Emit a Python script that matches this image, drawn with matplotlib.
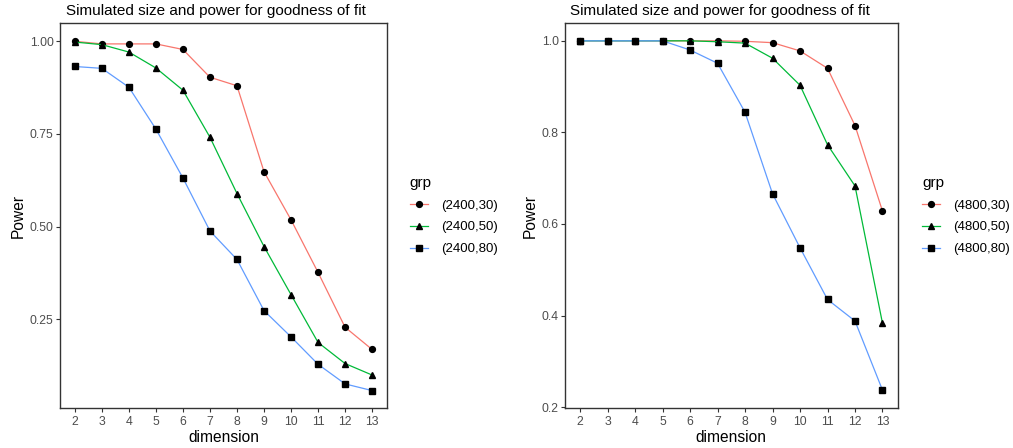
import matplotlib
matplotlib.use("Agg")
import matplotlib.pyplot as plt

plt.rcParams['font.family'] = ['Liberation Sans', 'DejaVu Sans']

dimension = [2, 3, 4, 5, 6, 7, 8, 9, 10, 11, 12, 13]

# Left panel (n = 2400)
left_labels = ["(2400,30)", "(2400,50)", "(2400,80)"]
left_30 = [1.000, 0.993, 0.993, 0.993, 0.978, 0.903, 0.880, 0.648, 0.518, 0.376, 0.228, 0.168]
left_50 = [0.998, 0.991, 0.971, 0.928, 0.868, 0.741, 0.589, 0.446, 0.316, 0.187, 0.130, 0.099]
left_80 = [0.932, 0.927, 0.876, 0.763, 0.631, 0.488, 0.411, 0.273, 0.202, 0.128, 0.075, 0.057]

# Right panel (n = 4800)
right_labels = ["(4800,30)", "(4800,50)", "(4800,80)"]
right_30 = [1.000, 1.000, 1.000, 1.000, 1.000, 1.000, 0.999, 0.996, 0.978, 0.940, 0.815, 0.628]
right_50 = [1.000, 1.000, 1.000, 1.000, 1.000, 0.998, 0.995, 0.962, 0.903, 0.773, 0.683, 0.383]
right_80 = [1.000, 1.000, 1.000, 1.000, 0.980, 0.951, 0.844, 0.666, 0.548, 0.435, 0.388, 0.237]

left_yticks = [0.25, 0.50, 0.75, 1.00]
left_yticklabels = ["0.25", "0.50", "0.75", "1.00"]
right_yticks = [0.2, 0.4, 0.6, 0.8, 1.0]
right_yticklabels = ["0.2", "0.4", "0.6", "0.8", "1.0"]

colors = ["#F8766D", "#00BA38", "#619CFF"]
markers = ["o", "^", "s"]
msizes = [4.2, 4.8, 4.0]

title = "Simulated size and power for goodness of fit"

fig = plt.figure(figsize=(10.13, 4.48), dpi=100)

def panel(rect, series, labels, yticks, yticklabels, ylim, legend_anchor, title_dx):
    ax = fig.add_axes(rect)
    handles = []
    for vals, c, m, ms in zip(series, colors, markers, msizes):
        h, = ax.plot(dimension, vals, color=c, lw=0.9, marker=m, markersize=ms,
                     markerfacecolor="black", markeredgecolor="black")
        handles.append(h)
    ax.set_xlim(1.45, 13.55)
    ax.set_ylim(*ylim)
    ax.set_xticks(dimension)
    ax.set_xticklabels([str(d) for d in dimension])
    ax.set_yticks(yticks)
    ax.set_yticklabels(yticklabels)
    ax.tick_params(axis='both', direction='out', length=3, width=0.8,
                   color="#333333", labelcolor="#4D4D4D", labelsize=8.8)
    ax.tick_params(axis='y', pad=1.5)
    ax.tick_params(axis='x', pad=2.5)
    for s in ax.spines.values():
        s.set_color("#333333")
        s.set_linewidth(1.0)
    ax.set_xlabel("dimension", fontsize=11.2, labelpad=2)
    ax.set_ylabel("Power", fontsize=11.2, labelpad=3)
    t = ax.set_title(title, loc='left', fontsize=11, pad=6)
    t.set_x(title_dx)
    leg = ax.legend(handles, labels, title="grp", loc="center left",
                    bbox_to_anchor=legend_anchor, frameon=False,
                    fontsize=9.5, title_fontsize=11, handlelength=1.36,
                    labelspacing=0.72, handletextpad=1.0, borderaxespad=0,
                    borderpad=0)
    leg._legend_box.align = "left"
    return ax

panel([0.0592, 0.0893, 0.3228, 0.859], [left_30, left_50, left_80], left_labels,
      left_yticks, left_yticklabels, (0.010, 1.049), (1.07, 0.50), 0.018)
panel([0.5577, 0.0893, 0.3284, 0.859], [right_30, right_50, right_80], right_labels,
      right_yticks, right_yticklabels, (0.198, 1.0386), (1.073, 0.50), 0.015)

fig.savefig("out.png", dpi=100)
